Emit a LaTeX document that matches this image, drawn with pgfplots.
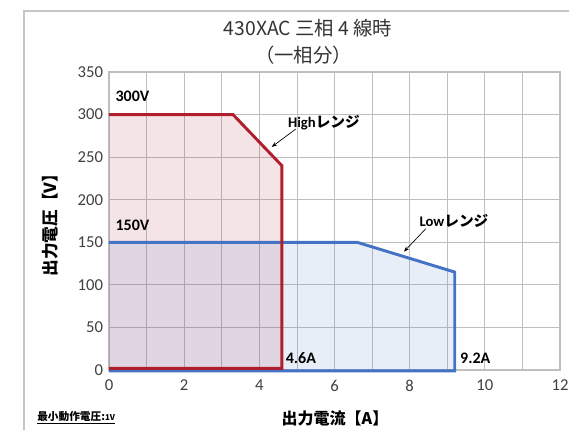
\documentclass[border=0pt]{standalone}
\usepackage{pgfplots}
\pgfplotsset{compat=1.18}
\usepackage{fontspec}
\setmainfont{Carlito}
\newfontfamily\jp{Noto Sans CJK JP}
\usetikzlibrary{arrows.meta}
\definecolor{hired}{HTML}{B01F2E}
\definecolor{loblue}{HTML}{4472C4}
\definecolor{gridgray}{HTML}{BFBFBF}
\begin{document}
\begin{tikzpicture}
\useasboundingbox (-81.75pt,-45pt) rectangle (345pt,277.5pt);
% chart area frame (top and left edges only visible)
\draw[gray!45, line width=1pt] (-63.75pt,-45pt) -- (-63.75pt,269.25pt) -- (345pt,269.25pt);
% title
\node[font=\jp\fontsize{14.5}{16}\selectfont, text=black!80] at (149.25pt,256.5pt) {430XAC 三相 4 線時};
\node[font=\jp\fontsize{14.5}{16}\selectfont, text=black!80] at (146pt,236.25pt) {（一相分）};
\begin{axis}[
  at={(0,0)}, anchor=south west,
  scale only axis, width=338.25pt, height=223.5pt,
  xmin=0, xmax=12, ymin=0, ymax=350,
  xtick={0,2,...,12}, minor xtick={1,3,...,11},
  ytick={0,50,...,350},
  grid=both,
  major grid style={gridgray, line width=0.6pt},
  minor grid style={gridgray, line width=0.6pt},
  axis line style={gridgray, line width=0.8pt},
  tick style={draw=none},
  tick label style={font=\fontsize{12.5}{13}\selectfont, text=black!75},
  /pgf/number format/assume math mode=true,
  xticklabel style={yshift=-4pt},
  yticklabel style={xshift=-1pt},
  clip=false,
]
% fills
\addplot[draw=none, fill=hired, fill opacity=0.12] coordinates {(0,300) (3.3,300) (4.6,240) (4.6,2) (0,2)} -- cycle;
\addplot[draw=none, fill=loblue, fill opacity=0.12] coordinates {(0,150) (6.6,150) (9.2,115) (9.2,-1) (0,-1)} -- cycle;
% outlines
\addplot[loblue, line width=2.2pt] coordinates {(0,150) (6.6,150) (9.2,115) (9.2,-1) (0,-1)};
\addplot[hired, line width=2.2pt] coordinates {(0,300) (3.3,300) (4.6,240) (4.6,2) (0,2)};

\node[anchor=west, font=\bfseries\fontsize{12}{13}\selectfont] at (axis cs:0.05,322) {300V};
\node[anchor=west, font=\bfseries\fontsize{12}{13}\selectfont] at (axis cs:0.05,170) {150V};
\node[anchor=west, font=\bfseries\fontsize{12}{13}\selectfont] at (axis cs:4.58,14) {4.6A};
\node[anchor=west, font=\bfseries\fontsize{12}{13}\selectfont] at (axis cs:9.22,14) {9.2A};

\node[font=\bfseries\fontsize{11}{12}\selectfont] at (axis cs:5.72,291) {High{\jp レンジ}};
\draw[-{Stealth[length=4pt]}, line width=0.5pt] (axis cs:4.97,283) -- (axis cs:4.33,262);
\node[font=\bfseries\fontsize{11}{12}\selectfont] at (axis cs:9.18,175) {Low{\jp レンジ}};
\draw[-{Stealth[length=4pt]}, line width=0.5pt] (axis cs:8.43,166) -- (axis cs:7.85,139);
\end{axis}
% axis labels
\node[rotate=90, font=\jp\bfseries\fontsize{12.5}{14}\selectfont] at (-44.25pt,111.75pt) {出力電圧【V】};
\node[font=\jp\bfseries\fontsize{12}{14}\selectfont] at (169.5pt,-36pt) {出力電流【A】};
\node[anchor=west, font=\jp\bfseries\fontsize{8}{9}\selectfont, inner sep=0pt] at (-54pt,-36pt) {\underline{最小動作電圧:{\fontsize{6}{7}\selectfont 1V}}};
\end{tikzpicture}
\end{document}
